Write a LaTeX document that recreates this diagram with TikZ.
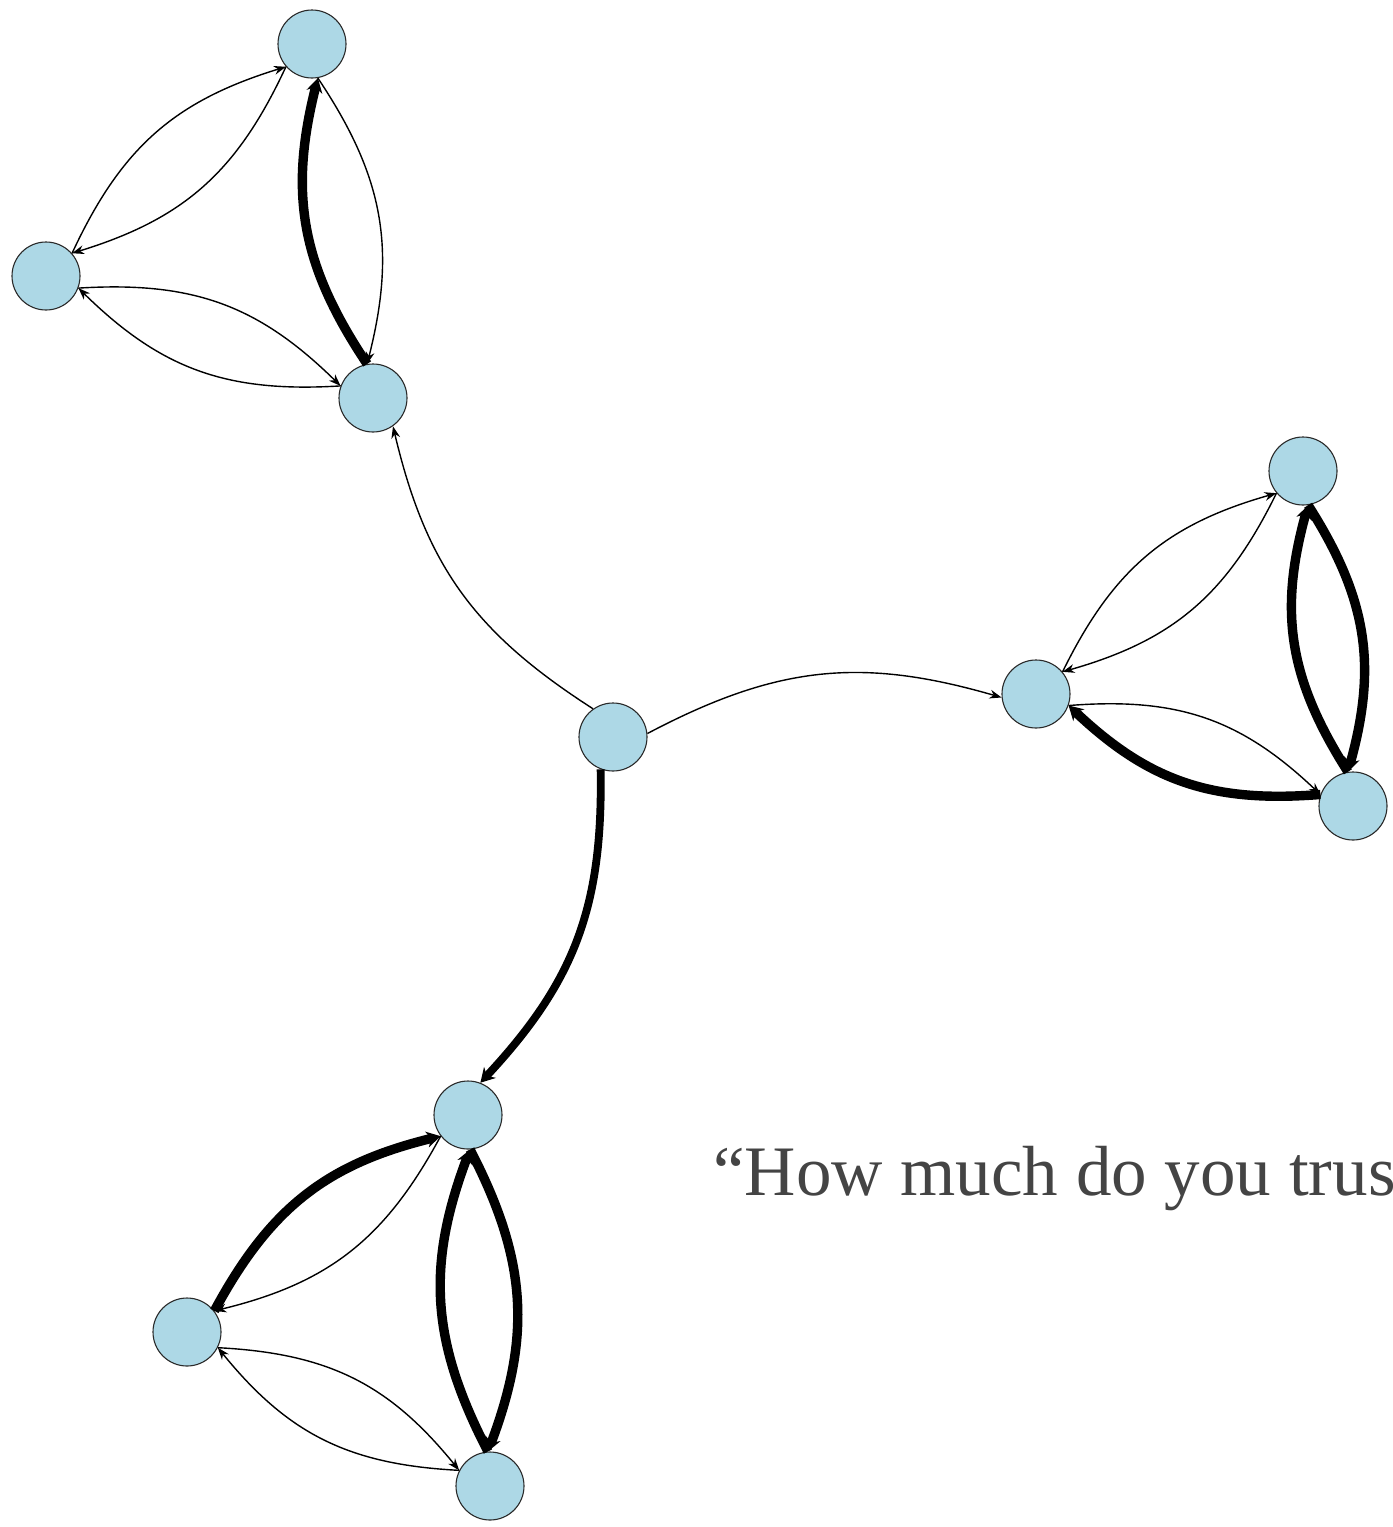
\documentclass[tikz,border=0pt]{standalone}
\usepackage{fontspec}
\setmainfont{Liberation Serif}
\usetikzlibrary{arrows.meta,calc}
\definecolor{nodefill}{HTML}{ADD8E6}
\definecolor{nodeline}{HTML}{2A2A2A}
\definecolor{txt}{HTML}{444444}
\newcommand\lnk[3]{\draw[#1] ($(#2)!17.3pt!(#3)$) to ($(#3)!17.3pt!(#2)$);}
\begin{document}
\begin{tikzpicture}[x=0.5pt,y=0.5pt,
  vert/.style={circle,fill=nodefill,draw=nodeline,line width=0.55pt,minimum size=34pt,inner sep=0pt},
  thinedge/.style={line width=0.7pt,-{Stealth[length=6pt,width=4.4pt]},bend left=24,looseness=1.05},
  thickedge/.style={line width=4.7pt,-{Stealth[length=7pt,width=8pt]},bend left=24,looseness=1.05},
  ]
\useasboundingbox (0,0) rectangle (1393,-1527);
% nodes
\node[vert] (O) at (613,-737) {};
\node[vert] (A1) at (312,-44) {};
\node[vert] (A2) at (46,-276) {};
\node[vert] (A3) at (373,-398) {};
\node[vert] (B1) at (1303,-471) {};
\node[vert] (B2) at (1036,-694) {};
\node[vert] (B3) at (1353,-806) {};
\node[vert] (C1) at (468,-1115) {};
\node[vert] (C2) at (187,-1332) {};
\node[vert] (C3) at (490,-1486) {};
% center edges
\lnk{thinedge,bend left=22}{O}{A3}
\lnk{thinedge,bend left=22}{O}{B2}
\lnk{thickedge,line width=3.9pt,bend left=22}{O}{C1}
% top cluster
\lnk{thinedge}{A1}{A2}
\lnk{thinedge}{A2}{A1}
\lnk{thinedge}{A2}{A3}
\lnk{thinedge}{A3}{A2}
\lnk{thinedge}{A1}{A3}
\lnk{thickedge}{A3}{A1}
% right cluster
\lnk{thinedge}{B1}{B2}
\lnk{thinedge}{B2}{B1}
\lnk{thinedge}{B2}{B3}
\lnk{thickedge}{B3}{B2}
\lnk{thickedge}{B1}{B3}
\lnk{thickedge}{B3}{B1}
% bottom cluster
\lnk{thinedge}{C1}{C2}
\lnk{thickedge}{C2}{C1}
\lnk{thinedge}{C2}{C3}
\lnk{thinedge}{C3}{C2}
\lnk{thickedge}{C1}{C3}
\lnk{thickedge}{C3}{C1}
% text
\node[anchor=base west,inner sep=0pt,text=txt,font=\fontsize{35.5}{42}\selectfont] (q) at (713,-1195) {“How much do you trus};
\end{tikzpicture}
\end{document}
